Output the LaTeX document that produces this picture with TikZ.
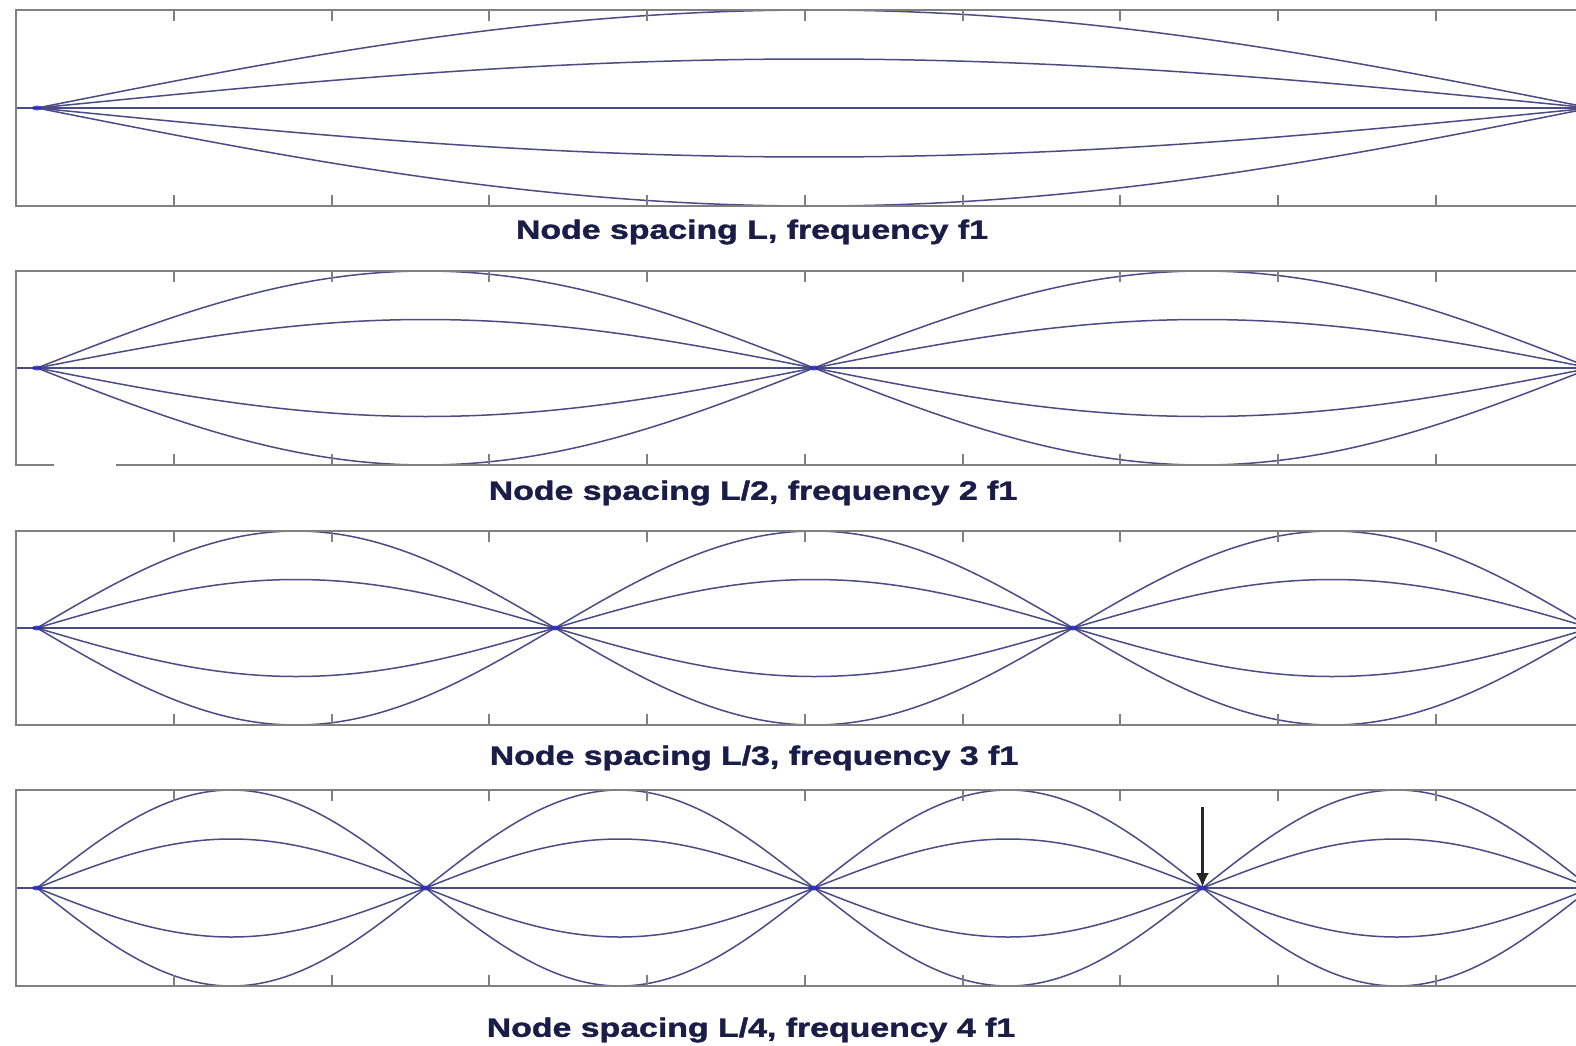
\documentclass[tikz,border=0pt]{standalone}
\usepackage{fontspec}
\setmainfont{Liberation Sans}
\newfontfamily\labfont{Liberation Sans Bold}[FakeBold=1.3]
\usepackage{graphicx}
\usetikzlibrary{arrows.meta}
\definecolor{framegray}{RGB}{128,128,128}
\definecolor{wavecol}{RGB}{75,75,135}
\definecolor{nodeblue}{RGB}{40,40,190}
\definecolor{labcol}{RGB}{28,28,72}
\begin{document}
\begin{tikzpicture}[x=1pt,y=-1pt,
  framestyle/.style={draw=framegray,line width=2.3pt},
  tickstyle/.style={draw=framegray,line width=2pt},
  wavestyle/.style={draw=wavecol,line width=1.5pt},
  blobstyle/.style={fill=nodeblue,fill opacity=0.8},
  labstyle/.style={text=labcol,font=\labfont\fontsize{26.5}{30}\selectfont,inner sep=0pt}]
\useasboundingbox[fill=white] (0,0) rectangle (1576,1046);
\begin{scope}
\clip (0,0) rectangle (1576,1046);
\foreach \T/\B/\n in {10/206/1, 271/465/2, 531/725/3, 790/986/4}{
  \pgfmathsetmacro\M{(\T+\B)/2}
  \pgfmathsetmacro\A{(\B-\T)/2}
  % waves
  \foreach \a in {1,0.5,-0.5,-1}{
    \draw[wavestyle] plot[domain=37:1591,samples=320,smooth]
      (\x,{\M - \a*\A*sin(\n*180*((\x-37)/1554))});
  }
  \draw[wavestyle] (16,\M) -- (1650,\M);
  % node blobs
  \foreach \j in {0,...,\n}{
    \fill[blobstyle] ({37+\j*(1554/\n)},\M) ellipse (5pt and 2.5pt);
  }
  % frame
  \draw[framestyle] (1650,\T) -- (16,\T) -- (16,\B) -- (1650,\B);
  % ticks
  \foreach \k in {1,...,9}{
    \draw[tickstyle] ({16+\k*157.75},\T) -- ++(0,11);
    \draw[tickstyle] ({16+\k*157.75},\B) -- ++(0,-11);
  }
}
\draw[white,line width=3.5pt] (54,465) -- (116,465);
\end{scope}
\coordinate (arrtop) at (1202.5,807);
\coordinate (arrtip) at (1202.5,887);
\draw[-{Latex[length=14pt,width=13pt]},line width=2.4pt,black!85] (arrtop) -- (arrtip);
\node[labstyle] (lab1) at (752,232) {\scalebox{1.277}[1]{Node spacing L, frequency f1}};
\node[labstyle] (lab2) at (753,493) {\scalebox{1.277}[1]{Node spacing L/2, frequency 2 f1}};
\node[labstyle] (lab3) at (754,758) {\scalebox{1.277}[1]{Node spacing L/3, frequency 3 f1}};
\node[labstyle] (lab4) at (751,1030) {\scalebox{1.277}[1]{Node spacing L/4, frequency 4 f1}};
\end{tikzpicture}
\end{document}
